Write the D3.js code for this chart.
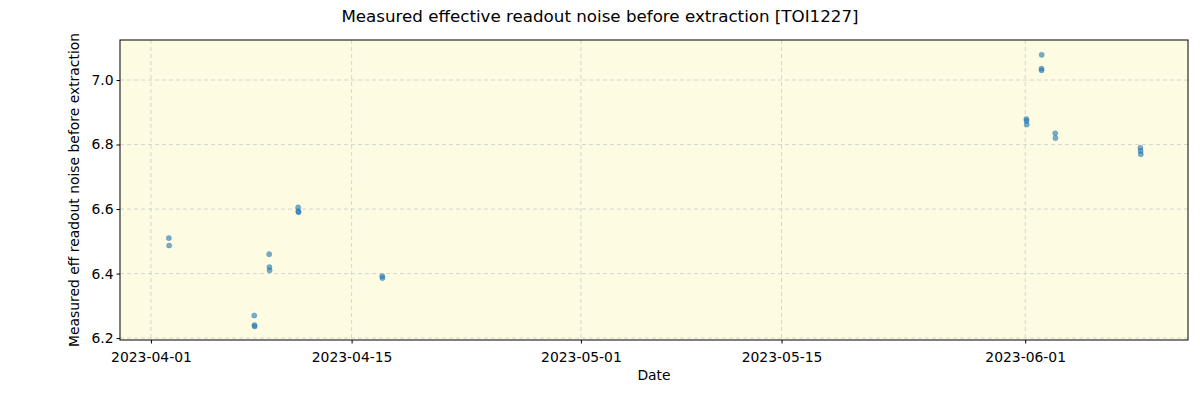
<!DOCTYPE html>
<meta charset="utf-8">
<script src="https://d3js.org/d3.v7.min.js"></script>
<style>
body { margin: 0; background: white; }
text { font-family: "DejaVu Sans", sans-serif; }
</style>
<div id="my_dataviz"></div>
<script>

// observation times and measured values
var obsTimes = [
  "2023-04-02T06:00", "2023-04-02T06:30",
  "2023-04-08T05:00", "2023-04-08T05:20", "2023-04-08T05:40",
  "2023-04-09T06:00", "2023-04-09T06:20", "2023-04-09T06:40",
  "2023-04-11T06:30", "2023-04-11T06:50", "2023-04-11T07:10",
  "2023-04-17T03:20", "2023-04-17T03:40",
  "2023-06-01T02:00", "2023-06-01T02:20", "2023-06-01T02:40",
  "2023-06-02T03:40", "2023-06-02T03:20", "2023-06-02T03:30",
  "2023-06-03T02:20", "2023-06-03T02:40",
  "2023-06-09T01:00", "2023-06-09T01:20", "2023-06-09T01:40"
];
var noiseValues = [
  6.510, 6.487,
  6.270, 6.240, 6.236,
  6.460, 6.420, 6.410,
  6.605, 6.593, 6.590,
  6.392, 6.386,
  6.879, 6.873, 6.862,
  7.078, 7.035, 7.030,
  6.835, 6.820,
  6.790, 6.780, 6.770
];
var yTicks = [6.2, 6.4, 6.6, 6.8, 7.0];
var xTicks = ["2023-04-01", "2023-04-15", "2023-05-01", "2023-05-15", "2023-06-01"];

var W = 1200, H = 400;
var margin = {top: 40, right: 12, bottom: 60, left: 120};
var width = W - margin.left - margin.right,
    height = H - margin.top - margin.bottom;

var svg = d3.select("#my_dataviz")
  .append("svg")
    .attr("width", W)
    .attr("height", H);

var g = svg.append("g")
    .attr("transform", "translate(" + margin.left + "," + margin.top + ")");

var parse = d3.isoParse;
var data = obsTimes.map(function(t, i) { return {date: parse(t), v: noiseValues[i]}; });

var x = d3.scaleTime()
  .domain([parse("2023-03-29T20:10"), parse("2023-06-12T08:40")])
  .range([0, width]);
var y = d3.scaleLinear()
  .domain([6.194, 7.124])
  .range([height, 0]);

// background
g.append("rect")
  .attr("width", width)
  .attr("height", height)
  .style("fill", "#fdfce2");

// grid
g.selectAll("xgrid")
  .data(xTicks)
  .enter()
  .append("line")
    .attr("x1", function(d) { return x(parse(d)); })
    .attr("x2", function(d) { return x(parse(d)); })
    .attr("y1", 0)
    .attr("y2", height)
    .style("stroke", "#cccccc")
    .style("stroke-dasharray", "4,3")
    .style("stroke-width", 0.8);
g.selectAll("ygrid")
  .data(yTicks)
  .enter()
  .append("line")
    .attr("y1", function(d) { return y(d); })
    .attr("y2", function(d) { return y(d); })
    .attr("x1", 0)
    .attr("x2", width)
    .style("stroke", "#cccccc")
    .style("stroke-dasharray", "4,3")
    .style("stroke-width", 0.8);

// axes
var xAxis = g.append("g")
  .attr("transform", "translate(0," + height + ")")
  .call(d3.axisBottom(x)
    .tickValues(xTicks.map(parse))
    .tickFormat(d3.timeFormat("%Y-%m-%d"))
    .tickSize(3.5)
    .tickSizeOuter(0));
var yAxis = g.append("g")
  .call(d3.axisLeft(y)
    .tickValues(yTicks)
    .tickFormat(d3.format(".1f"))
    .tickSize(3.5)
    .tickSizeOuter(0));
[xAxis, yAxis].forEach(function(a) {
  a.selectAll("text").style("font-size", "13.9px").style("fill", "#000").attr("font-family", null);
  a.selectAll(".tick line").style("stroke", "#000");
  a.select(".domain").remove();
});
xAxis.selectAll("text").attr("dy", "1.1em");

// frame
g.append("rect")
  .attr("width", width)
  .attr("height", height)
  .style("fill", "none")
  .style("stroke", "#000")
  .style("stroke-width", 1);

// dots
g.append("g")
  .selectAll("circle")
  .data(data)
  .enter()
  .append("circle")
    .attr("cx", function(d) { return x(d.date); })
    .attr("cy", function(d) { return y(d.v); })
    .attr("r", 2.6)
    .style("fill", "#1f77b4")
    .style("fill-opacity", 0.6)
    .style("stroke", "#1f77b4")
    .style("stroke-opacity", 0.6)
    .style("stroke-width", 0.5);

// labels
svg.append("text")
  .attr("x", W / 2)
  .attr("y", 22)
  .attr("text-anchor", "middle")
  .style("font-size", "16.7px")
  .text("Measured effective readout noise before extraction [TOI1227]");

svg.append("text")
  .attr("x", margin.left + width / 2)
  .attr("y", 380)
  .attr("text-anchor", "middle")
  .style("font-size", "13.9px")
  .text("Date");

svg.append("text")
  .attr("transform", "rotate(-90)")
  .attr("x", -(margin.top + height / 2))
  .attr("y", 79)
  .attr("text-anchor", "middle")
  .style("font-size", "13.9px")
  .text("Measured eff readout noise before extraction");

</script>
